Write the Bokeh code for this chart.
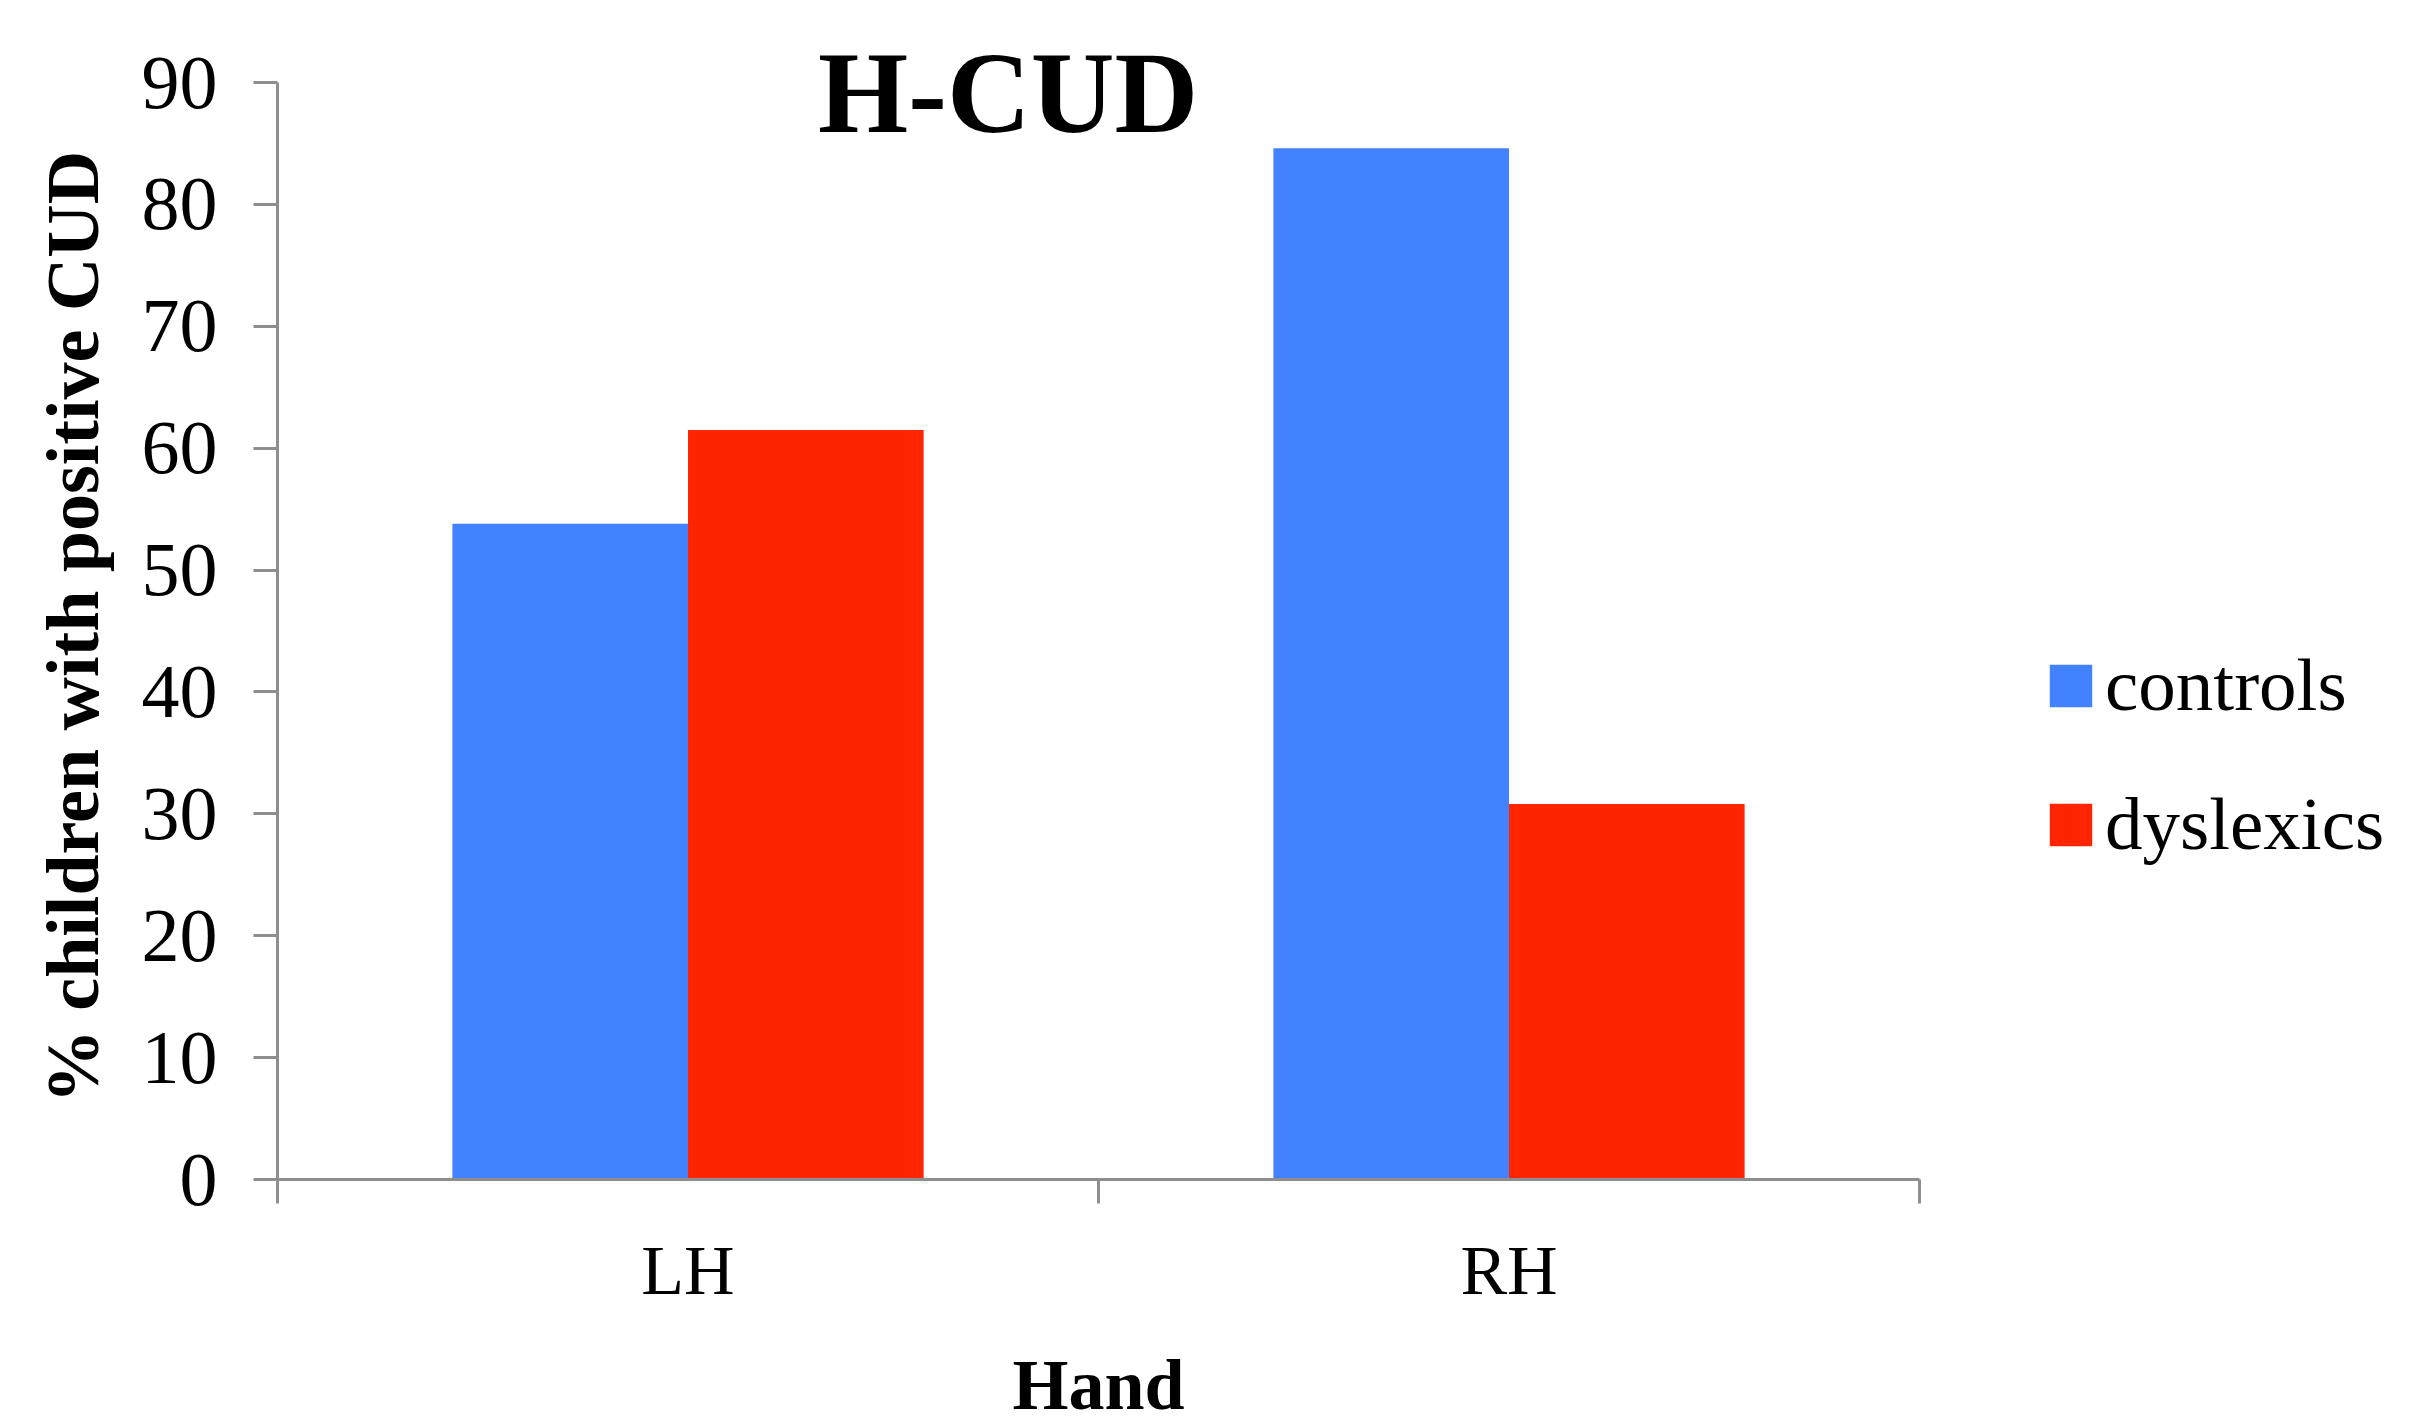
from bokeh.plotting import figure
from bokeh.models import (FactorRange, Range1d, LinearAxis, CategoricalAxis, FixedTicker,
                          ColumnDataSource, Legend, LegendItem, Label)
from bokeh.transform import dodge
from bokeh.embed import file_html
from bokeh.resources import INLINE

# ---- data ----
hands = ["LH", "RH"]
controls = [53.8, 84.6]
dyslexics = [61.5, 30.8]
series = ["controls", "dyslexics"]
y_ticks = [0, 10, 20, 30, 40, 50, 60, 70, 80, 90]
title_text = "H-CUD"
x_title = "Hand"
y_title = "% children with positive CUD"

# ---- style ----
BLUE = "#4281FF"
RED = "#FF2500"
AXIS = "#8E8E8E"
SERIF = "Liberation Serif"

src = ColumnDataSource(dict(hand=hands, controls=controls, dyslexics=dyslexics))

# the frame reaches the top of the page so the title (drawn inside it) is not clipped;
# the y axis itself is bounded to 0..90
p = figure(x_range=FactorRange(factors=hands, range_padding=0),
           y_range=Range1d(0, 90 * 1179 / 1097),
           frame_width=1642, frame_height=1179,
           min_border_left=277, min_border_right=477, min_border_top=0, min_border_bottom=233,
           output_backend="svg", toolbar_location=None,
           x_axis_type=None, y_axis_type=None)
p.outline_line_color = None
p.background_fill_color = "white"
p.border_fill_color = "white"

# y axis (non-breaking spaces re-centre the label on the 0..90 part of the axis)
yax = LinearAxis(ticker=FixedTicker(ticks=y_ticks), axis_label=y_title + "\u00a0" * 4,
                 bounds=(0, 90))
yax.axis_line_color = AXIS
yax.axis_line_width = 3
yax.major_tick_line_color = AXIS
yax.major_tick_line_width = 3
yax.major_tick_out = 24
yax.major_tick_in = 0
yax.minor_tick_line_color = None
yax.major_label_text_font = SERIF
yax.major_label_text_font_size = "76px"
yax.major_label_text_color = "black"
yax.major_label_standoff = 36
yax.axis_label_text_font = SERIF
yax.axis_label_text_font_style = "bold"
yax.axis_label_text_font_size = "74px"
yax.axis_label_text_color = "black"
yax.axis_label_standoff = 25
p.add_layout(yax, "left")

# x axis: boundary ticks between the categories (synthetic positions 0, 1, 2)
tax = LinearAxis(ticker=FixedTicker(ticks=[0, 1, 2]))
tax.axis_line_color = AXIS
tax.axis_line_width = 3
tax.major_tick_line_color = AXIS
tax.major_tick_line_width = 3
tax.major_tick_out = 24
tax.major_tick_in = 0
tax.minor_tick_line_color = None
tax.major_label_text_font_size = "1px"
tax.major_label_text_alpha = 0
tax.major_label_standoff = 0
p.add_layout(tax, "below")

# x axis: category labels
cax = CategoricalAxis(axis_label=x_title)
cax.axis_line_color = None
cax.major_tick_line_color = None
cax.major_tick_out = 0
cax.major_tick_in = 0
cax.major_label_text_font = SERIF
cax.major_label_text_font_size = "70px"
cax.major_label_text_color = "black"
cax.major_label_standoff = 28
cax.axis_label_text_font = SERIF
cax.axis_label_text_font_style = "bold"
cax.axis_label_text_font_size = "72px"
cax.axis_label_text_color = "black"
cax.axis_label_standoff = 33
p.add_layout(cax, "below")

# bars
r1 = p.vbar(x=dodge("hand", -0.1435, range=p.x_range), top="controls", width=0.287,
            source=src, fill_color=BLUE, line_color=None)
r2 = p.vbar(x=dodge("hand", 0.1435, range=p.x_range), top="dyslexics", width=0.287,
            source=src, fill_color=RED, line_color=None)

legend = Legend(items=[LegendItem(label=series[0], renderers=[r1]),
                       LegendItem(label=series[1], renderers=[r2])],
                location=(125, 312), glyph_width=53, glyph_height=53,
                label_standoff=8, spacing=53, padding=0, margin=0,
                border_line_color=None, background_fill_alpha=0,
                label_text_font=SERIF, label_text_font_size="75px",
                label_text_color="black")
p.add_layout(legend, "right")

p.add_layout(Label(x=0.89, y=89.1, text=title_text, text_font=SERIF,
                   text_font_style="bold", text_font_size="116px",
                   text_align="center", text_baseline="alphabetic", text_color="black"))

open("out.html", "w").write(file_html(p, INLINE))
